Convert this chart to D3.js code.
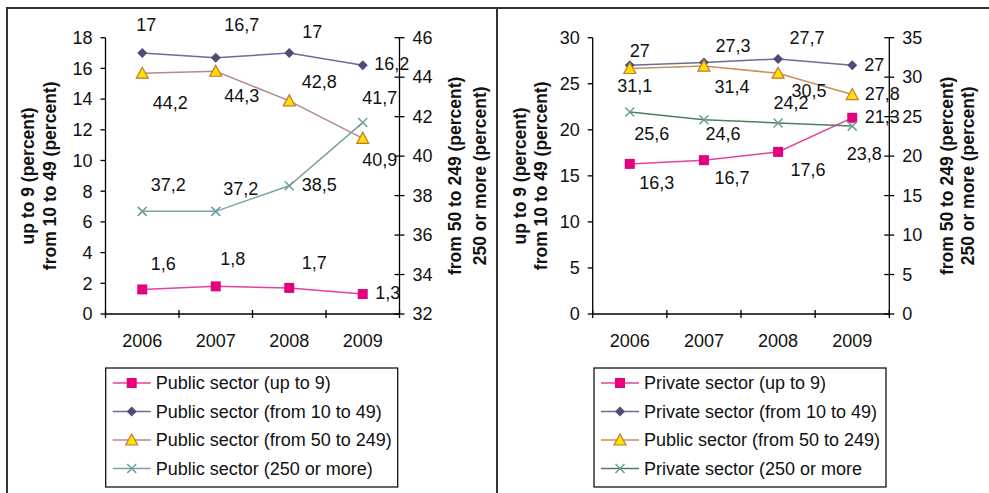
<!DOCTYPE html>
<html>
<head>
<meta charset="utf-8">
<script src="https://cdn.jsdelivr.net/npm/d3@7"></script>
<style>
  body { margin: 0; background: #fff; }
  text { font-family: "Liberation Sans", Arial, sans-serif; fill: #111; }
</style>
</head>
<body>
<div id="chart"></div>
<script>
// data
var years = ["2006", "2007", "2008", "2009"];

var publicUpTo9 = [1.6, 1.8, 1.7, 1.3];
var public10to49 = [17, 16.7, 17, 16.2];
var public50to249 = [44.2, 44.3, 42.8, 40.9];
var public250plus = [37.2, 37.2, 38.5, 41.7];

var privateUpTo9 = [16.3, 16.7, 17.6, 21.3];
var private10to49 = [27, 27.3, 27.7, 27];
var private50to249 = [31.1, 31.4, 30.5, 27.8];
var private250plus = [25.6, 24.6, 24.2, 23.8];

var leftNames = ["Public sector (up to 9)", "Public sector (from 10 to 49)",
                 "Public sector (from 50 to 249)", "Public sector (250 or more)"];
var rightNames = ["Private sector (up to 9)", "Private sector (from 10 to 49)",
                  "Public sector (from 50 to 249)", "Private sector (250 or more"];

var leftTicksL = d3.range(0, 19, 2), leftTicksR = d3.range(32, 47, 2);
var rightTicksL = d3.range(0, 31, 5), rightTicksR = d3.range(0, 36, 5);

// label offsets from each point (pixels), per series
var leftLabelOff = [
  [[21, -26], [17, -28], [25, -25], [25, -1]],
  [[4, -28], [26, -33], [23, -21], [29, -2]],
  [[28, 29], [26, 24], [30, -19], [17, 21]],
  [[26, -27], [25, -23], [30, -1], [17, -25]]
];
var rightLabelOff = [
  [[27, 19], [28, 18], [30, 18], [30, -1]],
  [[10, -15], [29, -17], [29, -21], [22, -1]],
  [[5, 17], [28, 21], [31, 17], [30, -1]],
  [[22, 22], [19, 14], [13, -20], [12, 28]]
];

var fmt = d3.formatLocale({decimal: ",", thousands: ".", grouping: [3], currency: ["", ""]}).format(",~r");

var svg = d3.select("#chart").append("svg")
  .attr("width", 989)
  .attr("height", 493);

// panel frames
svg.append("path")
  .attr("d", "M7,493 V8 H989 M497,8 V493")
  .attr("fill", "none")
  .attr("stroke", "#333")
  .attr("stroke-width", 2);

var styles = [
  {line: "#e8409a", mark: "#e5007d", shape: "square"},
  {line: "#6b6b96", mark: "#4d4d7a", shape: "diamond"},
  {line: null, mark: "#ffe000", stroke: "#c07a30", shape: "triangle"},
  {line: null, mark: "#6e9c9c", shape: "cross"}
];

function drawMarker(g, shape, st) {
  if (shape == "square") {
    g.append("rect").attr("x", -5).attr("y", -5).attr("width", 10).attr("height", 10)
      .attr("fill", st.mark);
  } else if (shape == "diamond") {
    g.append("path").attr("d", "M0,-5 L5,0 L0,5 L-5,0 Z").attr("fill", st.mark);
  } else if (shape == "triangle") {
    g.append("path").attr("d", "M0,-6 L6,5 L-6,5 Z")
      .attr("fill", st.mark).attr("stroke", st.stroke).attr("stroke-width", 1.2);
  } else {
    g.append("path").attr("d", "M-4.5,-4.5 L4.5,4.5 M-4.5,4.5 L4.5,-4.5")
      .attr("stroke", st.mark).attr("stroke-width", 1.5);
  }
}

function drawPanel(cfg) {
  var g = svg.append("g");
  var x = d3.scaleBand().domain(years).range([cfg.x0, cfg.x1]);
  var yL = d3.scaleLinear().domain(cfg.domL).range([314, 37.7]);
  var yR = d3.scaleLinear().domain(cfg.domR).range([314, 37.7]);

  // plot frame lines: left axis, right axis, bottom
  g.append("path")
    .attr("d", `M${cfg.x0},37.7 V314 H${cfg.x1} V37.7`)
    .attr("fill", "none").attr("stroke", "#000").attr("stroke-width", 1.3);

  // left axis
  cfg.ticksL.forEach(function(t) {
    g.append("line").attr("x1", cfg.x0 - 5).attr("x2", cfg.x0)
      .attr("y1", yL(t)).attr("y2", yL(t)).attr("stroke", "#000").attr("stroke-width", 1.3);
    g.append("text").attr("x", cfg.x0 - 13).attr("y", yL(t)).attr("dy", "0.35em")
      .attr("text-anchor", "end").attr("font-size", "18px").text(t);
  });
  // right axis, ticks crossing
  cfg.ticksR.forEach(function(t) {
    g.append("line").attr("x1", cfg.x1 - 5).attr("x2", cfg.x1 + 5)
      .attr("y1", yR(t)).attr("y2", yR(t)).attr("stroke", "#000").attr("stroke-width", 1.3);
    g.append("text").attr("x", cfg.x1 + 13).attr("y", yR(t)).attr("dy", "0.35em")
      .attr("font-size", "18px").text(t);
  });
  // x axis ticks at band edges
  d3.range(0, years.length + 1).forEach(function(i) {
    var xx = cfg.x0 + i * x.step();
    g.append("line").attr("x1", xx).attr("x2", xx).attr("y1", 310).attr("y2", 318)
      .attr("stroke", "#000").attr("stroke-width", 1.3);
  });
  years.forEach(function(yr) {
    g.append("text").attr("x", x(yr) + x.bandwidth() / 2).attr("y", 347)
      .attr("text-anchor", "middle").attr("font-size", "18px").text(yr);
  });

  // axis titles
  var cy = (314 + 37.7) / 2;
  [["up to 9 (percent)", cfg.tl[0]], ["from 10 to 49 (percent)", cfg.tl[1]],
   ["from 50 to 249 (percent)", cfg.tr[0]], ["250 or more (percent)", cfg.tr[1]]].forEach(function(a) {
    g.append("text")
      .attr("transform", `translate(${a[1]},${cy}) rotate(-90)`)
      .attr("dy", "0.35em").attr("text-anchor", "middle")
      .attr("font-size", "17.5px").attr("font-weight", "bold").text(a[0]);
  });

  // series
  var cx = function(d, i) { return x(years[i]) + x.bandwidth() / 2; };
  cfg.series.forEach(function(vals, s) {
    var st = Object.assign({}, styles[s]);
    if (s == 2) st.line = cfg.triLine;
    if (s == 3) st.line = cfg.crossLine;
    var y = s < 2 ? yL : yR;
    var line = d3.line().x(cx).y(function(d) { return y(d); });
    g.append("path").datum(vals).attr("d", line)
      .attr("fill", "none").attr("stroke", st.line).attr("stroke-width", 1.5);
    vals.forEach(function(v, i) {
      var m = g.append("g").attr("transform", `translate(${cx(v, i)},${y(v)})`);
      drawMarker(m, st.shape, st);
    });
    vals.forEach(function(v, i) {
      var off = cfg.off[s][i];
      g.append("text").attr("x", cx(v, i) + off[0]).attr("y", y(v) + off[1])
        .attr("dy", "0.35em").attr("text-anchor", "middle")
        .attr("font-size", "18px").text(fmt(v));
    });
  });

  // legend
  var lx = cfg.legX, ly = 368, lw = 292, lh = 119;
  g.append("rect").attr("x", lx).attr("y", ly).attr("width", lw).attr("height", lh)
    .attr("fill", "#fff").attr("stroke", "#000").attr("stroke-width", 1.2);
  cfg.names.forEach(function(name, s) {
    var st = Object.assign({}, styles[s]);
    if (s == 2) st.line = cfg.triLine;
    if (s == 3) st.line = cfg.crossLine;
    var ry = 383 + s * 28.5;
    g.append("line").attr("x1", lx + 7).attr("x2", lx + 45).attr("y1", ry).attr("y2", ry)
      .attr("stroke", st.line).attr("stroke-width", 1.5);
    drawMarker(g.append("g").attr("transform", `translate(${lx + 26},${ry})`), st.shape, st);
    g.append("text").attr("x", lx + 50).attr("y", ry).attr("dy", "0.35em")
      .attr("font-size", "18px").text(name);
  });
}

drawPanel({
  x0: 105.5, x1: 399.5, domL: [0, 18], domR: [32, 46],
  ticksL: leftTicksL, ticksR: leftTicksR,
  tl: [28, 50], tr: [455, 480],
  series: [publicUpTo9, public10to49, public50to249, public250plus],
  names: leftNames, off: leftLabelOff,
  triLine: "#b38a8a", crossLine: "#7aa3a3", legX: 105.7
});

drawPanel({
  x0: 592.7, x1: 889.3, domL: [0, 30], domR: [0, 35],
  ticksL: rightTicksL, ticksR: rightTicksR,
  tl: [520, 541], tr: [947, 968],
  series: [privateUpTo9, private10to49, private50to249, private250plus],
  names: rightNames, off: rightLabelOff,
  triLine: "#c8905a", crossLine: "#4a8058", legX: 594
});
</script>
</body>
</html>
